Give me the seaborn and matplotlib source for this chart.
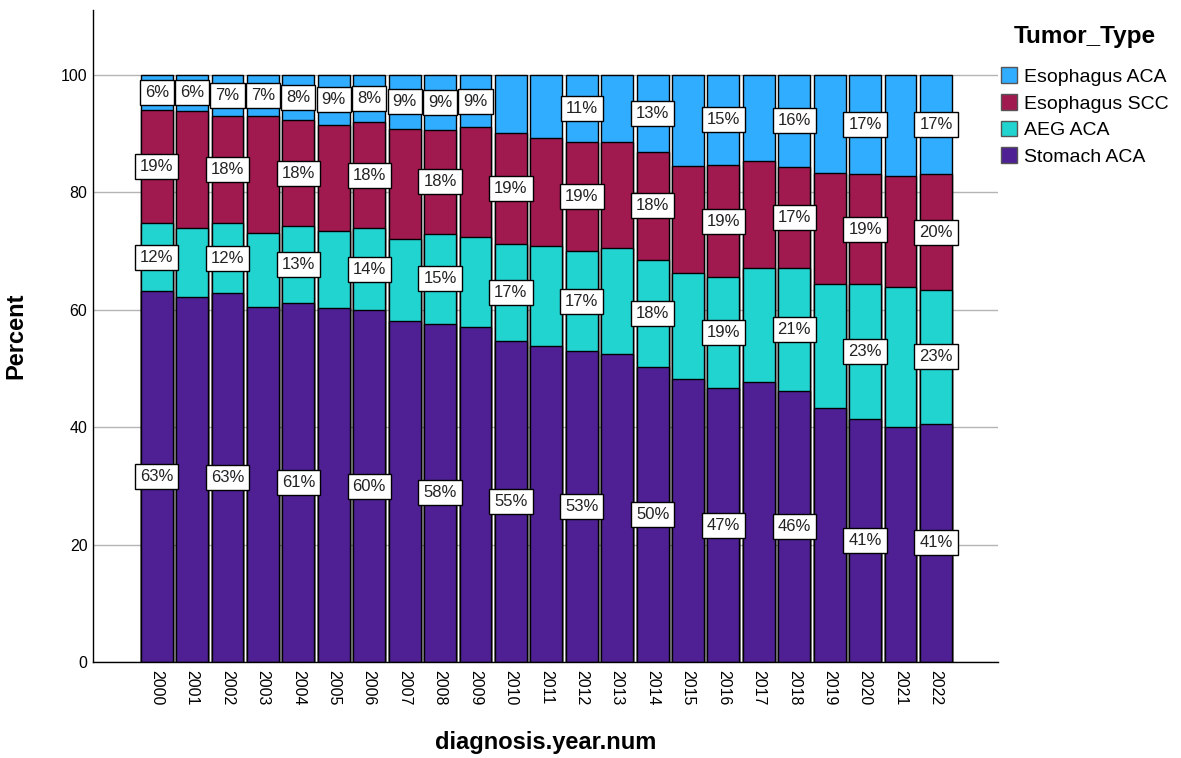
import pandas as pd
import matplotlib.pyplot as plt
import seaborn as sns
from matplotlib.patches import Patch

# percent of cases per diagnosis year
years = [str(y) for y in range(2000, 2023)]
stomach_aca = [63.1, 62.2, 62.8, 60.5, 61.1, 60.3, 59.9, 58.1, 57.6, 57.0, 54.6, 53.8,
               53.0, 52.5, 50.3, 48.2, 46.6, 47.6, 46.2, 43.2, 41.4, 40.0, 40.6]
aeg_aca = [11.6, 11.7, 11.9, 12.6, 13.1, 13.0, 14.0, 13.9, 15.3, 15.3, 16.6, 17.1,
           16.9, 17.9, 18.2, 18.1, 18.9, 19.5, 20.9, 21.2, 23.0, 23.8, 22.8]
esoph_scc = [19.3, 19.9, 18.2, 19.8, 18.0, 18.1, 18.0, 18.7, 17.7, 18.7, 18.9, 18.3,
             18.7, 18.2, 18.3, 18.2, 19.1, 18.2, 17.2, 18.9, 18.6, 18.9, 19.6]
esoph_aca = [6.0, 6.2, 7.1, 7.1, 7.8, 8.6, 8.1, 9.3, 9.4, 9.0, 9.9, 10.8,
             11.4, 11.4, 13.2, 15.5, 15.4, 14.7, 15.7, 16.7, 17.0, 17.3, 17.0]

# which bars carry a label
other_labeled = [str(y) for y in range(2000, 2023, 2)]
aca_labeled = [str(y) for y in range(2000, 2010)] + [str(y) for y in range(2012, 2023, 2)]

types = ['Esophagus ACA', 'Esophagus SCC', 'AEG ACA', 'Stomach ACA']
colors = ['#30adff', '#a0194f', '#22d4d0', '#4e2093']

df = pd.DataFrame({'year': years, 'Stomach ACA': stomach_aca, 'AEG ACA': aeg_aca,
                   'Esophagus SCC': esoph_scc, 'Esophagus ACA': esoph_aca})
df['c1'] = df['Stomach ACA']
df['c2'] = df['c1'] + df['AEG ACA']
df['c3'] = df['c2'] + df['Esophagus SCC']
df['c4'] = df['c3'] + df['Esophagus ACA']

sns.set_style('white')
plt.rcParams['font.family'] = ['Liberation Sans', 'DejaVu Sans']
plt.rcParams['text.color'] = 'black'
plt.rcParams['axes.labelcolor'] = 'black'
plt.rcParams['xtick.color'] = 'black'
plt.rcParams['ytick.color'] = 'black'

fig = plt.figure(figsize=(11.81, 7.58), dpi=100)
ax = fig.add_axes([0.0787, 0.1266, 0.7663, 0.8602])

for col, c in zip(['c4', 'c3', 'c2', 'c1'], colors):
    sns.barplot(data=df, x='year', y=col, color=c, width=0.9, errorbar=None,
                edgecolor='black', linewidth=1, saturation=1, ax=ax, zorder=2)

# percentage labels in the middle of each segment
segs = [('Stomach ACA', None, 'c1'), ('AEG ACA', 'c1', 'c2'),
        ('Esophagus SCC', 'c2', 'c3'), ('Esophagus ACA', 'c3', 'c4')]
for i, row in df.iterrows():
    for name, lo, hi in segs:
        if name == 'Esophagus ACA':
            if row['year'] not in aca_labeled:
                continue
        elif row['year'] not in other_labeled:
            continue
        bottom = 0 if lo is None else row[lo]
        mid = (bottom + row[hi]) / 2
        ax.text(i, mid, f"{row[name]:.0f}%", ha='center', va='center', fontsize=12,
                color='#222222', zorder=5,
                bbox=dict(boxstyle='square,pad=0.3', fc='white', ec='black', lw=1))

ax.set_ylim(0, 111)
ax.set_xlim(-1.8, 23.75)
ax.set_yticks([0, 20, 40, 60, 80, 100])
ax.yaxis.grid(True, color='#b4b4b4', lw=1, zorder=0)
ax.set_axisbelow(True)
for s in ['top', 'right']:
    ax.spines[s].set_visible(False)
for s in ['left', 'bottom']:
    ax.spines[s].set_color('black')
    ax.spines[s].set_linewidth(1)
ax.tick_params(axis='both', length=0, labelsize=11.5)
ax.tick_params(axis='y', pad=4)
ax.tick_params(axis='x', pad=6)
plt.setp(ax.get_xticklabels(), rotation=270)

ax.set_xlabel('diagnosis.year.num', fontsize=17, fontweight='bold', labelpad=18)
ax.set_ylabel('Percent', fontsize=17, fontweight='bold', labelpad=24)

handles = [Patch(facecolor=c, edgecolor='#555555', lw=1) for c in colors]
leg = ax.legend(handles, types, title='Tumor_Type', loc='upper left',
                bbox_to_anchor=(0.988, 0.998), frameon=False, fontsize=14,
                title_fontproperties={'weight': 'bold', 'size': 17.5},
                handlelength=0.85, handleheight=0.85, handletextpad=0.35,
                labelspacing=0.42, borderpad=0.2, alignment='center')
leg._legend_box.sep = 14

fig.savefig('out.png', dpi=100)
